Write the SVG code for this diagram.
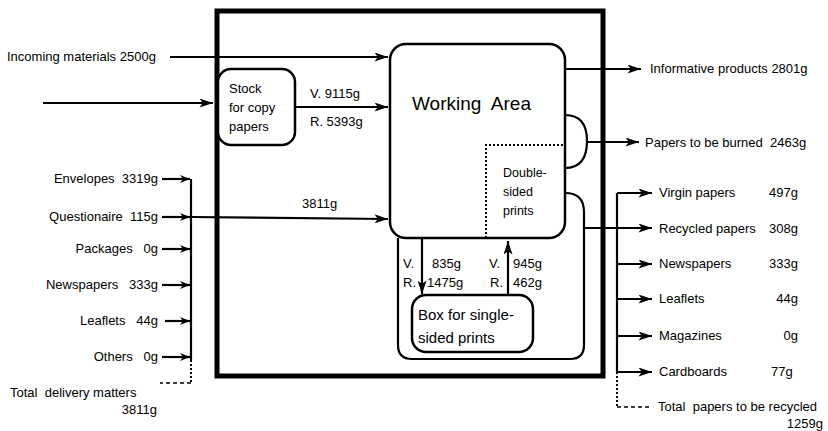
<svg xmlns="http://www.w3.org/2000/svg" width="828" height="431" viewBox="0 0 828 431">
<defs>
<marker id="ah" viewBox="0 0 10 8" refX="10" refY="4" markerWidth="10" markerHeight="8" markerUnits="userSpaceOnUse" orient="auto">
<path d="M0,0 L10,4 L0,8 L3,4 Z" fill="#000"/>
</marker>
<marker id="ahb" viewBox="0 0 12 8" refX="12" refY="4" markerWidth="14" markerHeight="9" markerUnits="userSpaceOnUse" orient="auto">
<path d="M0,0 L12,4 L0,8 L3,4 Z" fill="#000"/>
</marker>
</defs>
<style>
text{font-family:"Liberation Sans","DejaVu Sans",sans-serif;font-size:13px;fill:#000;white-space:pre}
.big{font-size:19px}
.mid{font-size:15px}
.sm{font-size:12.5px}
.box{fill:#fff;stroke:#000;stroke-width:2.5}
.ln{fill:none;stroke:#000;stroke-width:2.2}
.ar{fill:none;stroke:#000;stroke-width:2.2;marker-end:url(#ah)}
.arb{fill:none;stroke:#000;stroke-width:2.2;marker-end:url(#ahb)}
.dot{fill:none;stroke:#000;stroke-width:2;stroke-dasharray:2,2}
.dash{fill:none;stroke:#000;stroke-width:1.5;stroke-dasharray:4,3}
.r{text-anchor:end}
</style>
<rect width="828" height="431" fill="#fff"/>
<g id="frame"><rect x="217" y="11" width="386" height="365" fill="none" stroke="#000" stroke-width="5"/></g>
<g id="loop"><path class="ln" d="M565,193 Q584,193 584,212 L584,345 Q584,359 570,359 L412,359 Q398,359 398,345 L398,238"/></g>
<g id="working-area">
<rect class="box" x="390" y="44" width="175" height="194" rx="16"/>
<text class="big" x="412" y="110">Working  Area</text>
</g>
<g id="double-sided">
<path class="dot" d="M486,238 L486,145 L565,145"/>
<text class="sm" x="503" y="177">Double-</text>
<text class="sm" x="503" y="196">sided</text>
<text class="sm" x="503" y="215">prints</text>
</g>
<g id="stock">
<rect class="box" x="218" y="69" width="77" height="76" rx="13"/>
<text x="229" y="93">Stock</text>
<text x="229" y="112">for copy</text>
<text x="229" y="131">papers</text>
</g>
<g id="box-single">
<rect class="box" x="412" y="295" width="121" height="57" rx="14" stroke-width="3"/>
<text class="mid" x="418" y="320">Box for single-</text>
<text class="mid" x="418" y="343">sided prints</text>
</g>
<g id="connectors">
<path class="arb" d="M170,57 L388,57"/>
<path class="arb" d="M43,103 L213,103"/>
<path class="arb" d="M295,107 L388,107"/>
<path class="arb" d="M190,217 L388,219"/>
<path class="arb" d="M422,238 L422,294"/>
<path class="arb" d="M508,295 L508,241"/>
<path class="arb" d="M565,69 L641,69"/>
<path class="ln" d="M565,115 Q587,115 587,141 Q587,168 565,168"/>
<path class="arb" d="M587,142 L639,142"/>
<path class="arb" d="M584,228 L652,228"/>
<path class="ln" d="M191,179 L191,360"/>
<path class="dot" d="M191,360 L191,383"/>
<path class="dash" d="M191,383 L160,383"/>
<path class="ar" d="M162,179 L190,179"/>
<path class="ar" d="M162,217 L190,217"/>
<path class="ar" d="M162,249 L190,249"/>
<path class="ar" d="M162,285 L190,285"/>
<path class="ar" d="M165,321 L190,321"/>
<path class="ar" d="M162,357 L190,357"/>
<path class="ln" d="M617,193 L617,372"/>
<path class="dot" d="M617,372 L617,407"/>
<path class="dash" d="M617,407 L650,407"/>
<path class="arb" d="M617,193 L652,193"/>
<path class="arb" d="M617,264 L652,264"/>
<path class="arb" d="M617,299 L652,299"/>
<path class="arb" d="M617,336 L652,336"/>
<path class="arb" d="M617,372 L652,372"/>
</g>
<g id="labels">
<text x="7" y="61">Incoming materials 2500g</text>
<text x="310" y="98">V. 9115g</text>
<text x="310" y="126">R. 5393g</text>
<text x="302" y="208">3811g</text>
<text x="403" y="268">V.</text>
<text x="403" y="287">R.</text>
<text x="432" y="268">835g</text>
<text x="427" y="287">1475g</text>
<text x="489" y="268">V.</text>
<text x="490" y="287">R.</text>
<text x="513" y="268">945g</text>
<text x="513" y="287">462g</text>
<text x="650" y="73">Informative products 2801g</text>
<text x="645" y="147">Papers to be burned  2463g</text>
<text class="r" x="158" y="183">Envelopes  3319g</text>
<text class="r" x="158" y="221">Questionaire  115g</text>
<text class="r" x="158" y="253">Packages   0g</text>
<text class="r" x="158" y="289">Newspapers   333g</text>
<text class="r" x="158" y="325">Leaflets   44g</text>
<text class="r" x="158" y="361">Others   0g</text>
<text x="10" y="397">Total  delivery matters</text>
<text class="r" x="157" y="414">3811g</text>
<text x="659" y="197">Virgin papers</text>
<text x="659" y="233">Recycled papers</text>
<text x="659" y="268">Newspapers</text>
<text x="659" y="303">Leaflets</text>
<text x="659" y="340">Magazines</text>
<text x="659" y="376">Cardboards</text>
<text class="r" x="798" y="197">497g</text>
<text class="r" x="798" y="233">308g</text>
<text class="r" x="798" y="268">333g</text>
<text class="r" x="798" y="303">44g</text>
<text class="r" x="798" y="340">0g</text>
<text x="771" y="376">77g</text>
<text x="658" y="411">Total  papers to be recycled</text>
<text class="r" x="823" y="428">1259g</text>
</g>
</svg>
